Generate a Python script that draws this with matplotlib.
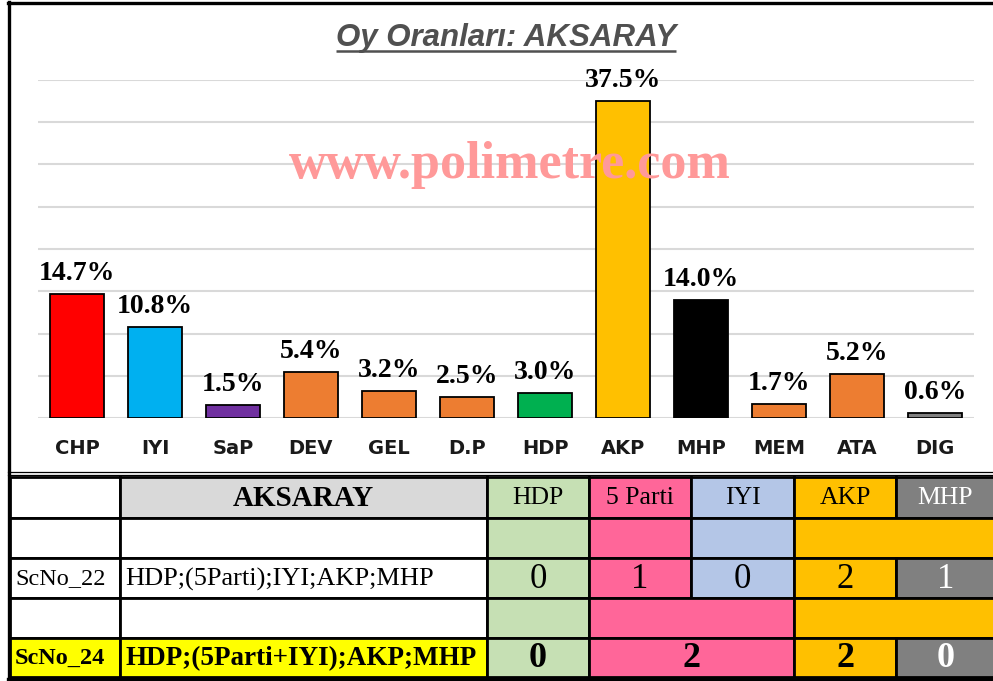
import matplotlib.pyplot as plt
from matplotlib.patches import Rectangle

# chart data
parties = ['CHP', 'IYI', 'SaP', 'DEV', 'GEL', 'D.P', 'HDP', 'AKP', 'MHP', 'MEM', 'ATA', 'DIG']
shares = [14.7, 10.8, 1.5, 5.4, 3.2, 2.5, 3.0, 37.5, 14.0, 1.7, 5.2, 0.6]
bar_colors = ['#FF0000', '#00B0F0', '#7030A0', '#ED7D31', '#ED7D31', '#ED7D31',
              '#00B050', '#FFC000', '#000000', '#ED7D31', '#ED7D31', '#808080']
title = 'Oy Oranları: AKSARAY'
watermark = 'www.polimetre.com'

# seat table data
province = 'AKSARAY'
table_parties = ['HDP', '5 Parti', 'IYI', 'AKP', 'MHP']
party_fill = ['#C6E0B4', '#FF6699', '#B4C6E7', '#FFC000', '#808080']
party_text = ['black', 'black', 'black', 'black', 'white']
sc22_name = 'ScNo_22'
sc22_desc = 'HDP;(5Parti);IYI;AKP;MHP'
sc22_seats = [0, 1, 0, 2, 1]
sc22_blocks = [[0], [1], [2], [3, 4]]
sc24_name = 'ScNo_24'
sc24_desc = 'HDP;(5Parti+IYI);AKP;MHP'
sc24_seats = [0, 2, 2, 0]
sc24_groups = [[0], [1, 2], [3], [4]]
sc24_blocks = [[0], [1, 2], [3, 4]]

W, H = 993, 681
SERIF = ['Liberation Serif', 'DejaVu Serif']

fig = plt.figure(figsize=(W / 100, H / 100), dpi=100)

# bar chart
base_y, top_y = 418, 80
ax = fig.add_axes([38 / W, (H - base_y) / H, (974 - 38) / W, (base_y - top_y) / H])
x = range(len(parties))
ax.bar(x, shares, width=0.68, color=bar_colors, edgecolor='black', linewidth=1.3, zorder=3)
ax.set_ylim(0, 40)
ax.set_xlim(-0.5, len(parties) - 0.5)
ax.set_yticks(range(0, 41, 5))
ax.yaxis.grid(True, color='#D9D9D9', linewidth=1.5)
ax.set_axisbelow(True)
ax.tick_params(axis='y', length=0, labelleft=False)
ax.tick_params(axis='x', length=0, pad=15)
ax.set_xticks(list(x))
ax.set_xticklabels(parties, fontsize=14, fontweight='bold', color='#1a1a1a')
for s in ax.spines.values():
    s.set_visible(False)

for i, v in enumerate(shares):
    ax.annotate(f'{v:.1f}%', xy=(i, v), xytext=(0, 10), textcoords='offset points',
                ha='center', va='baseline', fontsize=20, fontweight='bold',
                family=SERIF, zorder=4)

# overlay in pixel coordinates for title, watermark, frame and table
ov = fig.add_axes([0, 0, 1, 1])
ov.set_xlim(0, W)
ov.set_ylim(H, 0)
ov.axis('off')

t = ov.text(506, 46, title, ha='center', va='baseline', fontsize=22.5,
            fontweight='bold', fontstyle='italic', color='#505050',
            family=['Liberation Sans', 'DejaVu Sans'])
renderer = fig.canvas.get_renderer()
bb = t.get_window_extent(renderer)
ov.plot([bb.x0, bb.x1], [51, 51], color='#505050', lw=1.8, solid_capstyle='butt')

ov.text(510, 178, watermark, ha='center', va='baseline', fontsize=37.5,
        fontweight='bold', color='#FF9999', family=SERIF, zorder=5)

# outer frame and separator
ov.plot([9, 9], [2, 679], color='black', lw=2.4)
ov.plot([8, W], [3, 3], color='black', lw=2.4)
ov.plot([8, W], [471.5, 471.5], color='black', lw=0.9)
ov.plot([8, W], [474.5, 474.5], color='black', lw=0.9)
ov.plot([8, W], [679, 679], color='black', lw=2.4)

col_x = [10, 120, 487, 589, 691, 794, 896, W + 2]
row_y = [477, 518, 558, 598, 638, 677]


def cell(c0, c1, r, fill, text='', color='black', bold=False, size=18, align='center'):
    x0, x1 = col_x[c0], col_x[c1]
    y0, y1 = row_y[r], row_y[r + 1]
    ov.add_patch(Rectangle((x0, y0), x1 - x0, y1 - y0, facecolor=fill,
                           edgecolor='black', linewidth=2.0, zorder=2))
    if text != '':
        if align == 'left':
            tx, ha = x0 + 5, 'left'
        else:
            tx, ha = (x0 + x1) / 2, 'center'
        ov.text(tx, (y0 + y1) / 2 + 1, str(text), ha=ha, va='center', fontsize=size,
                fontweight='bold' if bold else 'normal', color=color,
                family=SERIF, zorder=3)


# header row
cell(0, 1, 0, 'white')
cell(1, 2, 0, '#D9D9D9', province, bold=True, size=21)
for j, p in enumerate(table_parties):
    cell(2 + j, 3 + j, 0, party_fill[j], p, color=party_text[j], size=18.5)

# scenario 22
cell(0, 1, 1, 'white')
cell(1, 2, 1, 'white')
for blk in sc22_blocks:
    cell(2 + blk[0], 3 + blk[-1], 1, party_fill[blk[0]])
cell(0, 1, 2, 'white', sc22_name, size=17.5, align='left')
cell(1, 2, 2, 'white', sc22_desc, size=19, align='left')
for j, v in enumerate(sc22_seats):
    cell(2 + j, 3 + j, 2, party_fill[j], v, color=party_text[j], size=25)

# scenario 24
cell(0, 1, 3, 'white')
cell(1, 2, 3, 'white')
for blk in sc24_blocks:
    cell(2 + blk[0], 3 + blk[-1], 3, party_fill[blk[0]])
cell(0, 1, 4, '#FFFF00', sc24_name, bold=True, size=17.5, align='left')
cell(1, 2, 4, '#FFFF00', sc24_desc, bold=True, size=19.5, align='left')
for g, v in zip(sc24_groups, sc24_seats):
    cell(2 + g[0], 3 + g[-1], 4, party_fill[g[0]], v, color=party_text[g[0]],
         bold=True, size=26)

fig.savefig('out.png', dpi=100)
